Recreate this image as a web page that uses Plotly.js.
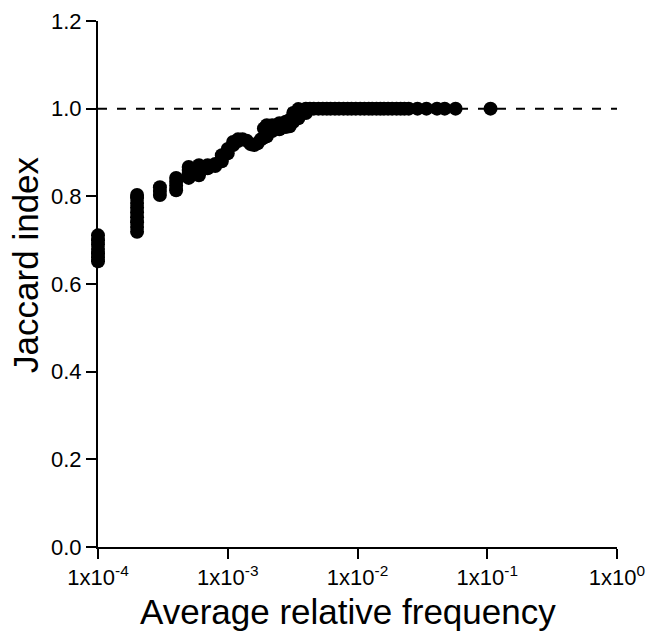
<!DOCTYPE html>
<html>
<head>
<meta charset="utf-8">
<script src="https://cdn.plot.ly/plotly-3.0.1.min.js"></script>
<style>html,body{margin:0;padding:0;background:#fff;}#chart{width:647px;height:631px;}</style>
</head>
<body>
<div id="chart"></div>
<script>
// Average relative frequency of each item and its Jaccard index
const frequency = [
  1e-4, 1e-4, 1e-4, 1e-4, 1e-4, 1e-4, 1e-4,
  2e-4, 2e-4, 2e-4, 2e-4, 2e-4, 2e-4, 2e-4, 2e-4, 2e-4,
  3e-4, 3e-4, 3e-4,
  4e-4, 4e-4, 4e-4, 4e-4,
  5e-4, 5e-4, 5e-4, 5e-4,
  6e-4, 6e-4, 6e-4,
  7e-4, 7e-4,
  8e-4, 8e-4,
  9e-4, 9e-4, 9e-4,
  1.0e-3, 1.0e-3,
  1.1e-3, 1.1e-3,
  1.2e-3, 1.2e-3,
  1.3e-3, 1.4e-3, 1.5e-3, 1.6e-3, 1.7e-3, 1.8e-3,
  1.9e-3, 1.9e-3,
  2.0e-3, 2.0e-3, 2.0e-3,
  2.2e-3, 2.2e-3,
  2.5e-3, 2.5e-3,
  2.8e-3, 2.8e-3,
  3.0e-3, 3.0e-3,
  3.2e-3, 3.2e-3,
  3.5e-3, 3.5e-3,
  4.0e-3, 4.0e-3,
  4.3e-3, 4.6e-3, 5.0e-3, 5.4e-3, 5.8e-3, 6.2e-3, 6.7e-3, 7.2e-3, 7.8e-3,
  8.4e-3, 9.0e-3, 9.7e-3, 1.05e-2, 1.13e-2, 1.22e-2, 1.30e-2, 1.40e-2,
  1.50e-2, 1.60e-2, 1.72e-2, 1.85e-2, 2.00e-2, 2.15e-2, 2.30e-2, 2.48e-2,
  2.9e-2, 3.4e-2, 4.1e-2, 4.7e-2, 5.7e-2,
  1.06e-1
];
const jaccard = [
  0.652, 0.661, 0.670, 0.680, 0.690, 0.700, 0.711,
  0.719, 0.730, 0.741, 0.752, 0.763, 0.774, 0.785, 0.796, 0.803,
  0.803, 0.812, 0.821,
  0.814, 0.824, 0.833, 0.842,
  0.842, 0.852, 0.860, 0.867,
  0.848, 0.860, 0.871,
  0.864, 0.871,
  0.869, 0.874,
  0.880, 0.888, 0.894,
  0.898, 0.908,
  0.917, 0.924,
  0.926, 0.930,
  0.930, 0.927, 0.919, 0.917, 0.921, 0.930,
  0.934, 0.955,
  0.937, 0.950, 0.962,
  0.949, 0.962,
  0.953, 0.967,
  0.958, 0.970,
  0.960, 0.974,
  0.970, 0.990,
  0.978, 0.999,
  0.990, 1.000,
  1.000, 1.000, 1.000, 1.000, 1.000, 1.000, 1.000, 1.000, 1.000,
  1.000, 1.000, 1.000, 1.000, 1.000, 1.000, 1.000, 1.000,
  1.000, 1.000, 1.000, 1.000, 1.000, 1.000, 1.000, 1.000,
  1.000, 1.000, 1.000, 1.000, 1.000,
  1.000
];
const xTickVals = [1e-4, 1e-3, 1e-2, 1e-1, 1];
const xTickText = ["1x10<sup>-4</sup>", "1x10<sup>-3</sup>", "1x10<sup>-2</sup>", "1x10<sup>-1</sup>", "1x10<sup>0</sup>"];
const xTitle = "Average relative frequency";
const yTitle = "Jaccard index";
const referenceJaccard = 1.0;

const font = "Liberation Sans, Arial, Helvetica, sans-serif";

const trace = {
  x: frequency,
  y: jaccard,
  type: "scatter",
  mode: "markers",
  cliponaxis: false,
  marker: {color: "#000", size: 14, line: {width: 0}},
  hoverinfo: "x+y"
};

const layout = {
  width: 647,
  height: 631,
  margin: {l: 98, r: 30, t: 21, b: 84},
  paper_bgcolor: "#fff",
  plot_bgcolor: "#fff",
  showlegend: false,
  font: {family: font, color: "#000", size: 20},
  xaxis: {
    type: "log",
    range: [-4, 0],
    tickvals: xTickVals,
    ticktext: xTickText,
    showgrid: false,
    zeroline: false,
    showline: true,
    linecolor: "#000",
    linewidth: 2,
    ticks: "outside",
    ticklen: 10,
    tickwidth: 2,
    tickcolor: "#000",
    tickfont: {family: font, size: 22, color: "#000"}
  },
  yaxis: {
    range: [0, 1.2],
    tickmode: "linear",
    tick0: 0,
    dtick: 0.2,
    tickformat: ".1f",
    showgrid: false,
    zeroline: false,
    showline: true,
    linecolor: "#000",
    linewidth: 2,
    ticks: "outside",
    ticklen: 10,
    tickwidth: 2,
    tickcolor: "#000",
    tickfont: {family: font, size: 22, color: "#000"}
  },
  annotations: [
    {
      text: xTitle, showarrow: false,
      xref: "paper", yref: "paper", x: 0.482, y: -0.1226,
      xanchor: "center", yanchor: "middle",
      font: {family: font, size: 35, color: "#000"}
    },
    {
      text: yTitle, showarrow: false, textangle: -90,
      xref: "paper", yref: "paper", x: -0.141, y: 0.536,
      xanchor: "center", yanchor: "middle",
      font: {family: font, size: 35, color: "#000"}
    }
  ],
  shapes: [{
    type: "line",
    xref: "paper", x0: 0, x1: 1,
    yref: "y", y0: referenceJaccard, y1: referenceJaccard,
    line: {color: "#000", width: 2, dash: "9px,10px"},
    layer: "below"
  }]
};

Plotly.newPlot("chart", [trace], layout, {displayModeBar: false, staticPlot: true});
</script>
</body>
</html>
